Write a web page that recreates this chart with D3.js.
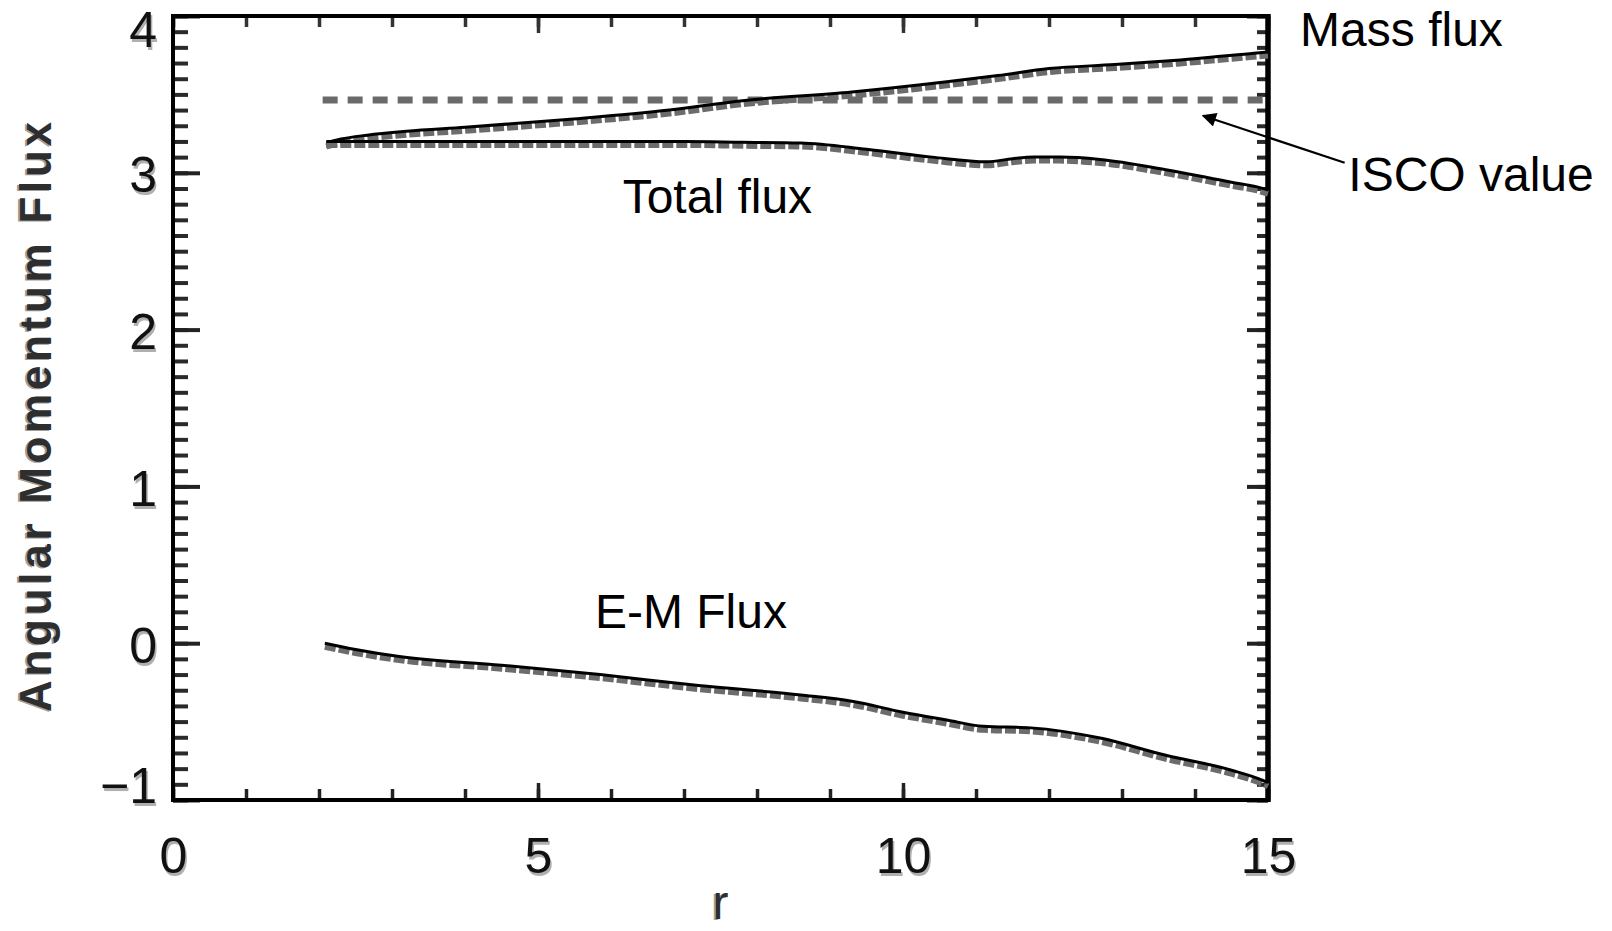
<!DOCTYPE html>
<html>
<head>
<meta charset="utf-8">
<script src="https://cdn.jsdelivr.net/npm/d3@7/dist/d3.min.js"></script>
<style>
  html, body { margin: 0; padding: 0; background: #fff; }
  svg { display: block; }
</style>
</head>
<body>
<svg id="chart" width="1612" height="931"></svg>
<script>
// ---- data ----
const xMajorTicks = [0, 5, 10, 15];
const yMajorTicks = [-1, 0, 1, 2, 3, 4];

const massR = [2.1, 2.3, 2.66, 3.2, 4.0, 5.4, 6.8, 7.8, 9.3, 10.6, 11.3, 12.0, 12.9, 13.8, 14.75, 15.0];
const massV = [3.19, 3.215, 3.24, 3.265, 3.29, 3.34, 3.40, 3.46, 3.515, 3.58, 3.62, 3.665, 3.69, 3.72, 3.76, 3.77];

const totalR = [2.1, 3, 4, 5, 6, 7, 7.8, 8.6, 9.5, 10.4, 11.15, 11.5, 11.8, 12.15, 12.7, 13.6, 14.5, 14.85, 15];
const totalV = [3.2, 3.2, 3.2, 3.2, 3.2, 3.2, 3.195, 3.19, 3.15, 3.10, 3.07, 3.09, 3.10, 3.10, 3.085, 3.02, 2.94, 2.91, 2.89];

const emR = [2.08, 2.5, 3.1, 4.5, 5.85, 7.2, 8.6, 9.3, 10.0, 10.6, 11.1, 11.75, 12.7, 13.6, 14.5, 14.93, 15];
const emV = [0.0, -0.04, -0.085, -0.14, -0.2, -0.27, -0.33, -0.37, -0.44, -0.49, -0.53, -0.54, -0.605, -0.715, -0.81, -0.875, -0.89];

const iscoR = [2.05, 14.95];
const iscoValue = 3.464;

const labels = [
  { text: "Mass flux",   r: 15.44, v: 3.81 },
  { text: "ISCO value",  r: 16.1,  v: 2.885 },
  { text: "Total flux",  r: 6.16,  v: 2.745 },
  { text: "E-M Flux",    r: 5.78,  v: 0.096 }
];
const arrowFrom = { r: 16.05, v: 3.064 };
const arrowTo   = { r: 14.11, v: 3.364 };

// ---- chart ----
const svg = d3.select("#chart");
svg.append("rect").attr("width", 1612).attr("height", 931).attr("fill", "#fff");

const x = d3.scaleLinear().domain([0, 15]).range([173, 1268]);
const y = d3.scaleLinear().domain([-1, 4]).range([800, 16]);

const minorY = d3.range(-10, 41).map(d => d / 10);
const minorX = d3.range(0, 16);
const FONT = "'Liberation Sans', Arial, Helvetica, sans-serif";

function styleTicks(g, w, col) {
  g.select(".domain").remove();
  g.selectAll(".tick line").attr("stroke", col).attr("stroke-width", w);
  g.selectAll(".tick text").remove();
}

// left ticks (inward)
svg.append("g").attr("transform", `translate(${x(0)},0)`)
  .call(d3.axisRight(y).tickValues(minorY).tickSize(15).tickFormat(""))
  .call(g => styleTicks(g, 4, "#2a2a2a"));
svg.append("g").attr("transform", `translate(${x(0)},0)`)
  .call(d3.axisRight(y).tickValues(yMajorTicks).tickSize(27).tickFormat(""))
  .call(g => styleTicks(g, 4, "#222"));
// right ticks (inward)
svg.append("g").attr("transform", `translate(${x(15)},0)`)
  .call(d3.axisLeft(y).tickValues(minorY).tickSize(11).tickFormat(""))
  .call(g => styleTicks(g, 4, "#2a2a2a"));
svg.append("g").attr("transform", `translate(${x(15)},0)`)
  .call(d3.axisLeft(y).tickValues(yMajorTicks).tickSize(21).tickFormat(""))
  .call(g => styleTicks(g, 4, "#222"));
// bottom ticks (inward)
svg.append("g").attr("transform", `translate(0,${y(-1)})`)
  .call(d3.axisTop(x).tickValues(minorX).tickSize(11).tickFormat(""))
  .call(g => styleTicks(g, 3.5, "#222"));
svg.append("g").attr("transform", `translate(0,${y(-1)})`)
  .call(d3.axisTop(x).tickValues(xMajorTicks).tickSize(17).tickFormat(""))
  .call(g => styleTicks(g, 3.5, "#222"));
// top ticks (inward)
svg.append("g").attr("transform", `translate(0,${y(4)})`)
  .call(d3.axisBottom(x).tickValues(minorX).tickSize(11).tickFormat(""))
  .call(g => styleTicks(g, 3.5, "#333"));
svg.append("g").attr("transform", `translate(0,${y(4)})`)
  .call(d3.axisBottom(x).tickValues(xMajorTicks).tickSize(17).tickFormat(""))
  .call(g => styleTicks(g, 3.5, "#333"));

// frame
svg.append("rect")
  .attr("x", x(0)).attr("y", y(4))
  .attr("width", x(15) - x(0)).attr("height", y(-1) - y(4))
  .attr("fill", "none").attr("stroke", "#000").attr("stroke-width", 4);
svg.append("line")
  .attr("x1", x(15)).attr("x2", x(15)).attr("y1", y(4) - 2).attr("y2", y(-1) + 2)
  .attr("stroke", "#000").attr("stroke-width", 5.5);

// tick labels (with a soft grey shadow as in the reference);
// the end labels of the y axis are kept inside the frame, as in the reference
function yLabelShift(d) { return d === 4 ? 14 : (d === -1 ? -14 : 3); }
function labelAxis(gen, transform, shiftFn) {
  [["#b0b0b0", 1.5, 3], ["#111", 0, 0]].forEach(([col, dx, dy]) => {
    svg.append("g").attr("transform", transform)
      .call(gen)
      .call(g => {
        g.select(".domain").remove();
        g.selectAll(".tick line").remove();
        g.selectAll(".tick text")
          .attr("fill", col)
          .attr("font-family", FONT)
          .attr("font-size", 50)
          .attr("transform", d => `translate(${dx},${dy + (shiftFn ? shiftFn(d) : 0)})`);
      });
  });
}
labelAxis(d3.axisLeft(y).tickValues(yMajorTicks).tickSize(0).tickPadding(16).tickFormat(d3.format("d")),
          `translate(${x(0)},0)`, yLabelShift);
labelAxis(d3.axisBottom(x).tickValues(xMajorTicks).tickSize(0).tickPadding(37).tickFormat(d3.format("d")),
          `translate(0,${y(-1)})`, null);

// axis titles
[["#a0a0a0", -2, 1], ["#2e2e2e", 0, 0]].forEach(([col, dx, dy]) => {
  svg.append("text")
    .attr("transform", `translate(${51 + dx},${(y(4) + y(-1)) / 2 + 9 + dy}) rotate(-90)`)
    .attr("text-anchor", "middle")
    .attr("font-family", FONT)
    .attr("font-weight", "bold")
    .attr("font-size", 44)
    .attr("textLength", 590).attr("lengthAdjust", "spacing")
    .attr("fill", col)
    .text("Angular Momentum Flux");
  svg.append("text")
    .attr("x", (x(0) + x(15)) / 2 + dx).attr("y", 919 + dy)
    .attr("text-anchor", "middle")
    .attr("font-family", FONT)
    .attr("font-size", 48)
    .attr("fill", col)
    .text("r");
});

// ISCO dashed line
svg.append("line")
  .attr("x1", x(iscoR[0])).attr("x2", x(iscoR[1]))
  .attr("y1", y(iscoValue)).attr("y2", y(iscoValue))
  .attr("stroke", "#6a6a6a").attr("stroke-width", 7)
  .attr("stroke-dasharray", "15,10");

// curves: grey dashed shading under a black line
const line = d3.line().x(d => x(d[0])).y(d => y(d[1])).curve(d3.curveMonotoneX);
function drawCurve(rs, vs) {
  const pts = rs.map((r, i) => [r, vs[i]]);
  svg.append("path").attr("d", line(pts))
    .attr("transform", "translate(0,3.5)")
    .attr("fill", "none").attr("stroke", "#6c6c6c").attr("stroke-width", 6)
    .attr("stroke-dasharray", "11,3");
  svg.append("path").attr("d", line(pts))
    .attr("fill", "none").attr("stroke", "#000").attr("stroke-width", 3);
}
drawCurve(massR, massV);
drawCurve(totalR, totalV);
drawCurve(emR, emV);

// annotations
labels.forEach(l => {
  svg.append("text")
    .attr("x", x(l.r)).attr("y", y(l.v))
    .attr("font-family", FONT)
    .attr("font-size", 48)
    .attr("fill", "#000")
    .text(l.text);
});

// arrow
svg.append("defs").append("marker")
  .attr("id", "head").attr("viewBox", "0 0 10 10")
  .attr("refX", 9).attr("refY", 5)
  .attr("markerWidth", 8).attr("markerHeight", 6.5)
  .attr("markerUnits", "strokeWidth")
  .attr("orient", "auto")
  .append("path").attr("d", "M0,0 L10,5 L0,10 Z").attr("fill", "#000");
svg.append("line")
  .attr("x1", x(arrowFrom.r)).attr("y1", y(arrowFrom.v))
  .attr("x2", x(arrowTo.r)).attr("y2", y(arrowTo.v))
  .attr("stroke", "#000").attr("stroke-width", 2.2)
  .attr("marker-end", "url(#head)");
</script>
</body>
</html>
